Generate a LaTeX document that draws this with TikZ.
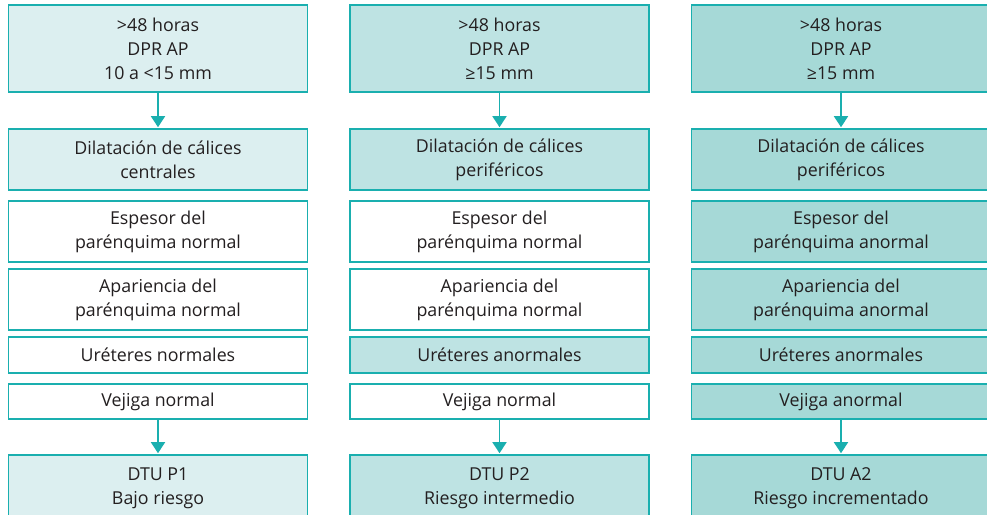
\documentclass[tikz,border=0pt]{standalone}
\usepackage{fontspec}
\setmainfont{Open Sans}
\usetikzlibrary{arrows.meta}
\definecolor{kborde}{HTML}{1AAFAF}
\definecolor{kbajo}{HTML}{DCEFF0}
\definecolor{kmedio}{HTML}{BEE3E3}
\definecolor{kalto}{HTML}{A6D9D7}
\definecolor{ktexto}{HTML}{231F20}
\begin{document}
\begin{tikzpicture}[x=1pt,y=1pt,
caja/.style={draw=kborde,line width=1.6pt,minimum width=299pt,inner sep=0pt,align=center,text=ktexto,font=\fontsize{17.8}{24}\selectfont},
flecha/.style={draw=kborde,line width=1.8pt,-{Triangle[width=14pt,length=11pt]},shorten >=1pt}]
\pgfmathsetmacro{\kxstep}{341.5}
\pgfmathsetmacro{\kxo}{158}
\useasboundingbox(0,0)rectangle(987,-514);
\foreach \kx/\kf/\txt in {0/kbajo/{>48 horas\\DPR AP\\10 a <15 mm},1/kmedio/{>48 horas\\DPR AP\\≥15 mm},2/kalto/{>48 horas\\DPR AP\\≥15 mm}}{\node[caja,fill=\kf,minimum height=87pt](a\kx)at(\kxo+\kx*\kxstep,-48.5){\txt};}
\foreach \kx/\kf/\txt in {0/kbajo/{Dilatación de cálices\\centrales},1/kmedio/{Dilatación de cálices\\periféricos},2/kalto/{Dilatación de cálices\\periféricos}}{\node[caja,fill=\kf,minimum height=61pt](b\kx)at(\kxo+\kx*\kxstep,-159.5){\txt};}
\foreach \kx/\kf/\txt in {0/white/{Espesor del\\parénquima normal},1/white/{Espesor del\\parénquima normal},2/kalto/{Espesor del\\parénquima anormal}}{\node[caja,fill=\kf,minimum height=61pt](c\kx)at(\kxo+\kx*\kxstep,-231.5){\txt};}
\foreach \kx/\kf/\txt in {0/white/{Apariencia del\\parénquima normal},1/white/{Apariencia del\\parénquima normal},2/kalto/{Apariencia del\\parénquima anormal}}{\node[caja,fill=\kf,minimum height=61pt](d\kx)at(\kxo+\kx*\kxstep,-299.5){\txt};}
\foreach \kx/\kf/\txt in {0/white/{Uréteres normales},1/kmedio/{Uréteres anormales},2/kalto/{Uréteres anormales}}{\node[caja,fill=\kf,minimum height=36pt](e\kx)at(\kxo+\kx*\kxstep,-355){\txt};}
\foreach \kx/\kf/\txt in {0/white/{Vejiga normal},1/white/{Vejiga normal},2/kalto/{Vejiga anormal}}{\node[caja,fill=\kf,minimum height=35pt](f\kx)at(\kxo+\kx*\kxstep,-401.5){\txt};}
\foreach \kx/\kf/\txt in {0/kbajo/{DTU P1\\Bajo riesgo},1/kmedio/{DTU P2\\Riesgo intermedio},2/kalto/{DTU A2\\Riesgo incrementado}}{\node[caja,fill=\kf,minimum height=67pt](g\kx)at(\kxo+\kx*\kxstep,-488.5){\txt};}
\foreach \kx in {0,1,2}{\draw[flecha](a\kx)--(b\kx);\draw[flecha](f\kx)--(g\kx);}
\end{tikzpicture}
\end{document}
